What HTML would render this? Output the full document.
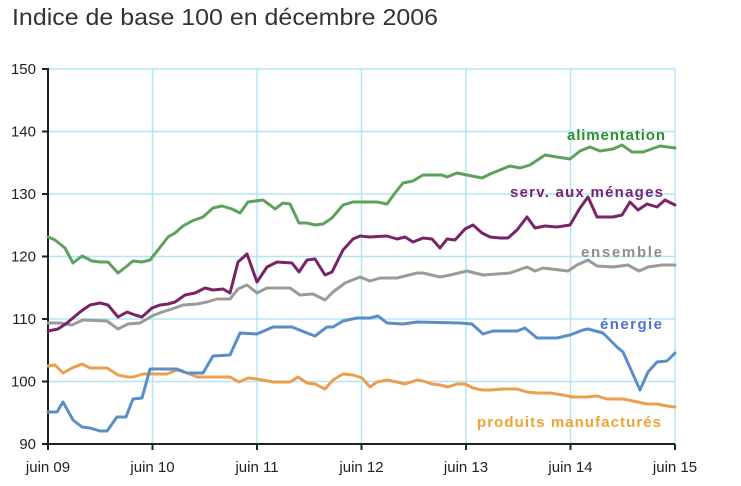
<!DOCTYPE html>
<html><head><meta charset="utf-8"><style>
html,body{margin:0;padding:0;background:#fff;}
svg{display:block;}
text{font-family:"Liberation Sans",Arial,sans-serif;}
</style></head><body>
<svg width="741" height="486" viewBox="0 0 741 486" xmlns="http://www.w3.org/2000/svg">
<rect width="741" height="486" fill="#fff"/>
<text x="12" y="25" font-size="23" fill="#333" textLength="426" lengthAdjust="spacingAndGlyphs">Indice de base 100 en décembre 2006</text>
<!-- grid -->
<g stroke="#b3e5f2" stroke-width="1.5" fill="none">
<line x1="48" y1="69" x2="675" y2="69"/>
<line x1="48" y1="131.5" x2="675" y2="131.5"/>
<line x1="48" y1="194" x2="675" y2="194"/>
<line x1="48" y1="256.5" x2="675" y2="256.5"/>
<line x1="48" y1="319" x2="675" y2="319"/>
<line x1="48" y1="381.5" x2="675" y2="381.5"/>
<line x1="152.5" y1="69" x2="152.5" y2="444"/>
<line x1="257" y1="69" x2="257" y2="444"/>
<line x1="361.5" y1="69" x2="361.5" y2="444"/>
<line x1="466" y1="69" x2="466" y2="444"/>
<line x1="570.5" y1="69" x2="570.5" y2="444"/>
<line x1="675" y1="69" x2="675" y2="444"/>
</g>
<!-- axes -->
<g stroke="#222" stroke-width="2" fill="none">
<line x1="48" y1="68" x2="48" y2="445"/>
<line x1="47" y1="444" x2="675" y2="444"/>
<line x1="42" y1="69" x2="48" y2="69"/>
<line x1="42" y1="131.5" x2="48" y2="131.5"/>
<line x1="42" y1="194" x2="48" y2="194"/>
<line x1="42" y1="256.5" x2="48" y2="256.5"/>
<line x1="42" y1="319" x2="48" y2="319"/>
<line x1="42" y1="381.5" x2="48" y2="381.5"/>
<line x1="42" y1="444" x2="48" y2="444"/>
<line x1="48" y1="444" x2="48" y2="450"/>
<line x1="152.5" y1="444" x2="152.5" y2="450"/>
<line x1="257" y1="444" x2="257" y2="450"/>
<line x1="361.5" y1="444" x2="361.5" y2="450"/>
<line x1="466" y1="444" x2="466" y2="450"/>
<line x1="570.5" y1="444" x2="570.5" y2="450"/>
<line x1="675" y1="444" x2="675" y2="450"/>
</g>
<g font-size="15" fill="#222" text-anchor="end">
<text x="36" y="74">150</text>
<text x="36" y="136.5">140</text>
<text x="36" y="199">130</text>
<text x="36" y="261.5">120</text>
<text x="36" y="324">110</text>
<text x="36" y="386.5">100</text>
<text x="36" y="449">90</text>
</g>
<g font-size="15" fill="#222" text-anchor="middle">
<text x="48" y="472">juin 09</text>
<text x="152.5" y="472">juin 10</text>
<text x="257" y="472">juin 11</text>
<text x="361.5" y="472">juin 12</text>
<text x="466" y="472">juin 13</text>
<text x="570.5" y="472">juin 14</text>
<text x="675" y="472">juin 15</text>
</g>
<!-- series -->
<g fill="none" stroke-width="3" stroke-linejoin="round" stroke-linecap="round">
<polyline stroke="#ec9e4f" points="48,366 55,365 63,373 72,368 82,364 90,368 107,368 118,375 128,377 133,377 143,374 167,374 177,370 187,373 197,377 230,377 239,382 248,378 257,379 273,382 290,382 298,377 307,383 315,384 325,389 333,380 343,374 353,375 362,378 370,387 377,382 387,380 397,382 405,384 417,380 423,381 432,384 440,385 448,387 457,384 465,384 473,388 482,390 490,390 503,389 517,389 527,392 537,393 550,393 563,395 573,397 587,397 597,396 607,399 623,399 633,401 647,404 657,404 667,406 675,407"/>
<polyline stroke="#5a8ec8" points="48,412 57,412 63,402 73,420 82,427 90,428 100,431 107,431 117,417 126,417 133,399 142,398 150,369 177,369 187,373 203,373 213,356 230,355 240,333 257,334 273,327 292,327 307,333 315,336 327,327 333,327 343,321 357,318 370,318 378,316 387,323 403,324 417,322 460,323 472,324 483,334 493,331 517,331 525,328 537,338 557,338 570,335 583,330 588,329 603,333 617,347 623,352 640,390 648,372 657,362 667,361 675,353"/>
<polyline stroke="#9a9a9a" points="48,323 60,323 72,325 83,320 107,321 118,329 128,324 140,323 152,316 162,312 172,309 183,305 197,304 207,302 217,299 230,299 238,289 247,285 257,293 267,288 290,288 300,295 313,294 325,300 333,292 345,283 360,277 370,281 380,278 397,278 417,273 423,273 440,277 450,275 467,271 483,275 510,273 527,267 535,271 543,268 568,271 577,265 588,260 597,266 613,267 628,265 639,271 648,267 662,265 675,265"/>
<polyline stroke="#7a2468" points="48,331 58,329 67,323 80,312 90,305 100,303 108,305 118,317 127,312 135,315 142,317 152,308 160,305 168,304 175,302 185,295 195,293 205,288 213,290 223,289 230,293 238,262 247,254 257,282 267,267 277,262 292,263 299,272 307,260 315,259 325,275 332,272 343,250 353,239 360,236 370,237 387,236 397,239 405,237 413,242 423,238 432,239 440,248 447,239 455,240 465,229 473,225 482,233 490,237 500,238 508,238 517,230 527,217 535,228 545,226 557,227 570,225 580,208 588,197 597,217 613,217 622,215 630,202 638,210 647,204 657,207 665,200 675,205"/>
<polyline stroke="#5ca25c" points="48,237 55,240 65,248 73,263 82,256 92,261 100,262 108,262 118,273 127,266 133,261 142,262 150,260 158,250 168,237 175,233 183,226 192,221 203,217 213,208 222,206 232,209 240,213 248,202 263,200 270,205 275,209 283,203 290,204 299,223 307,223 315,225 323,224 332,218 343,205 353,202 377,202 387,204 395,193 403,183 413,181 423,175 442,175 447,177 457,173 467,175 482,178 490,174 500,170 510,166 520,168 530,165 545,155 557,157 570,159 580,151 590,147 600,151 613,149 622,145 632,152 643,152 660,146 675,148"/>
</g>
<!-- labels -->
<g font-size="15" font-weight="bold">
<text x="567" y="140" fill="#2f8f2f" textLength="98" lengthAdjust="spacing">alimentation</text>
<text x="510" y="197" fill="#7a1f78" textLength="153" lengthAdjust="spacing">serv. aux ménages</text>
<text x="581" y="257" fill="#8e8e8e" textLength="81" lengthAdjust="spacing">ensemble</text>
<text x="600" y="329" fill="#4a72d2" textLength="62" lengthAdjust="spacing">énergie</text>
<text x="477" y="427" fill="#f0a332" textLength="184" lengthAdjust="spacing">produits manufacturés</text>
</g>
</svg>
</body></html>
